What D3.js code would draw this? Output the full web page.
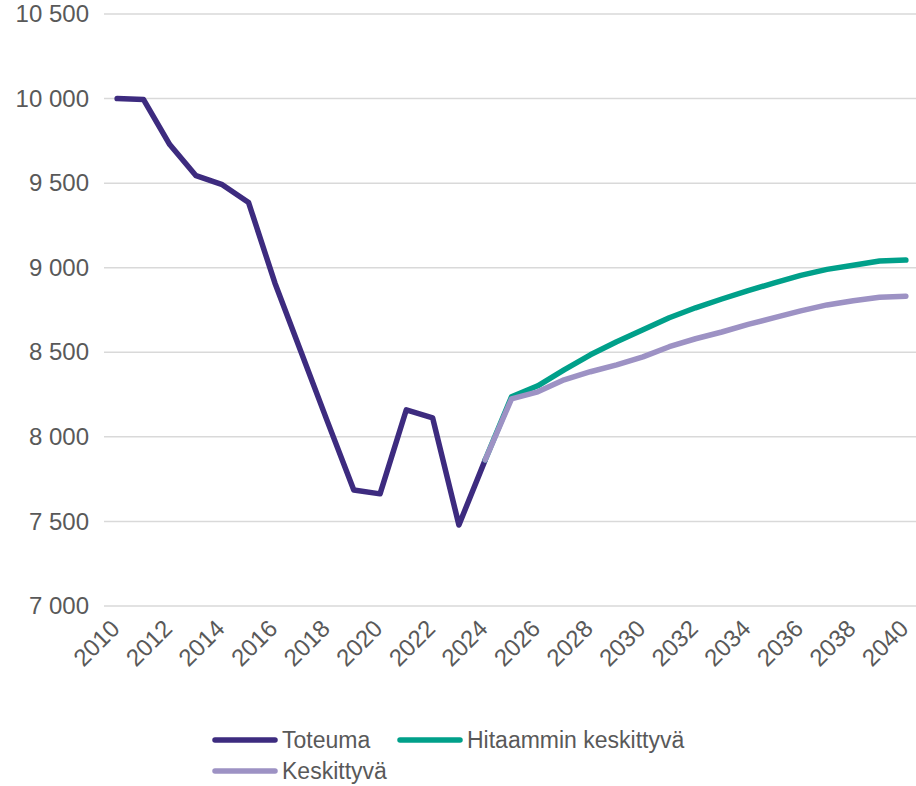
<!DOCTYPE html>
<html>
<head>
<meta charset="utf-8">
<script src="https://cdn.jsdelivr.net/npm/d3@7"></script>
<style>
  body { margin: 0; background: #fff; }
  text { font-family: "Liberation Sans", Arial, sans-serif; fill: #595959; }
</style>
</head>
<body>
<div id="chart"></div>
<script>
// yearly values, actuals up to 2024 and two scenarios from 2024 onwards
const years = d3.range(2010, 2041);
const toteumaYears = d3.range(2010, 2025);
const toteuma = [10000, 9995, 9728, 9544, 9491, 9385, 8910, 8500, 8090, 7686, 7663, 8160, 8112, 7479, 7864];
const scenarioYears = d3.range(2024, 2041);
const hitaammin = [7864, 8237, 8302, 8396, 8485, 8562, 8633, 8704, 8763, 8815, 8865, 8910, 8955, 8990, 9015, 9040, 9045];
const keskittyva = [7864, 8225, 8266, 8337, 8385, 8426, 8473, 8533, 8580, 8620, 8665, 8705, 8745, 8780, 8805, 8825, 8832];
const yTicks = [7000, 7500, 8000, 8500, 9000, 9500, 10000, 10500];
const xTicks = years.filter(d => d % 2 === 0);

const series = [
    { name: 'Toteuma', years: toteumaYears, values: toteuma, color: '#3d2b7f' },
    { name: 'Hitaammin keskittyvä', years: scenarioYears, values: hitaammin, color: '#00a08a' },
    { name: 'Keskittyvä', years: scenarioYears, values: keskittyva, color: '#9d92c4' }
];

const width = 916, height = 786;
const svg = d3.select('#chart').append('svg')
    .attr('width', width)
    .attr('height', height);

const x = d3.scalePoint()
    .domain(years)
    .range([104, 919])
    .padding(0.5);

const y = d3.scaleLinear()
    .domain([7000, 10500])
    .range([606, 14]);

// horizontal gridlines
svg.append('g')
    .selectAll('line')
    .data(yTicks)
    .enter().append('line')
    .attr('x1', 104)
    .attr('x2', width)
    .attr('y1', d => y(d))
    .attr('y2', d => y(d))
    .attr('stroke', '#d9d9d9')
    .attr('stroke-width', 1.5);

// y axis labels
const fmt = d => d3.format(',')(d).replace(',', ' ');
svg.append('g')
    .attr('transform', 'translate(89,0)')
    .call(d3.axisLeft(y).tickValues(yTicks).tickFormat(fmt).tickSize(0).tickPadding(0))
    .call(g => g.select('.domain').remove())
    .selectAll('text')
    .attr('font-size', 24)
    .attr('fill', '#595959')
    .style('font-family', '"Liberation Sans", Arial, sans-serif');

// x axis labels, rotated
svg.append('g')
    .selectAll('text')
    .data(xTicks)
    .enter().append('text')
    .attr('transform', d => 'translate(' + (x(d) + 4) + ',630) rotate(-45)')
    .attr('text-anchor', 'end')
    .attr('font-size', 24)
    .text(d => d);

// lines
const line = d3.line()
    .x(d => x(d[0]))
    .y(d => y(d[1]));

svg.append('g')
    .selectAll('path')
    .data(series)
    .enter().append('path')
    .attr('d', s => line(s.years.map((yr, i) => [yr, s.values[i]])))
    .attr('fill', 'none')
    .attr('stroke', s => s.color)
    .attr('stroke-width', 5.5)
    .attr('stroke-linejoin', 'round')
    .attr('stroke-linecap', 'round');

// legend
const legendPos = [
    { x: 215, y: 740 },
    { x: 400, y: 740 },
    { x: 215, y: 771 }
];
const legend = svg.append('g')
    .selectAll('g')
    .data(series)
    .enter().append('g')
    .attr('transform', (d, i) => 'translate(' + legendPos[i].x + ',' + legendPos[i].y + ')');

legend.append('line')
    .attr('x1', 0)
    .attr('x2', 60)
    .attr('stroke', d => d.color)
    .attr('stroke-width', 5.5)
    .attr('stroke-linecap', 'round');

legend.append('text')
    .attr('x', 67)
    .attr('dy', '0.33em')
    .attr('font-size', 23)
    .text(d => d.name);
</script>
</body>
</html>
